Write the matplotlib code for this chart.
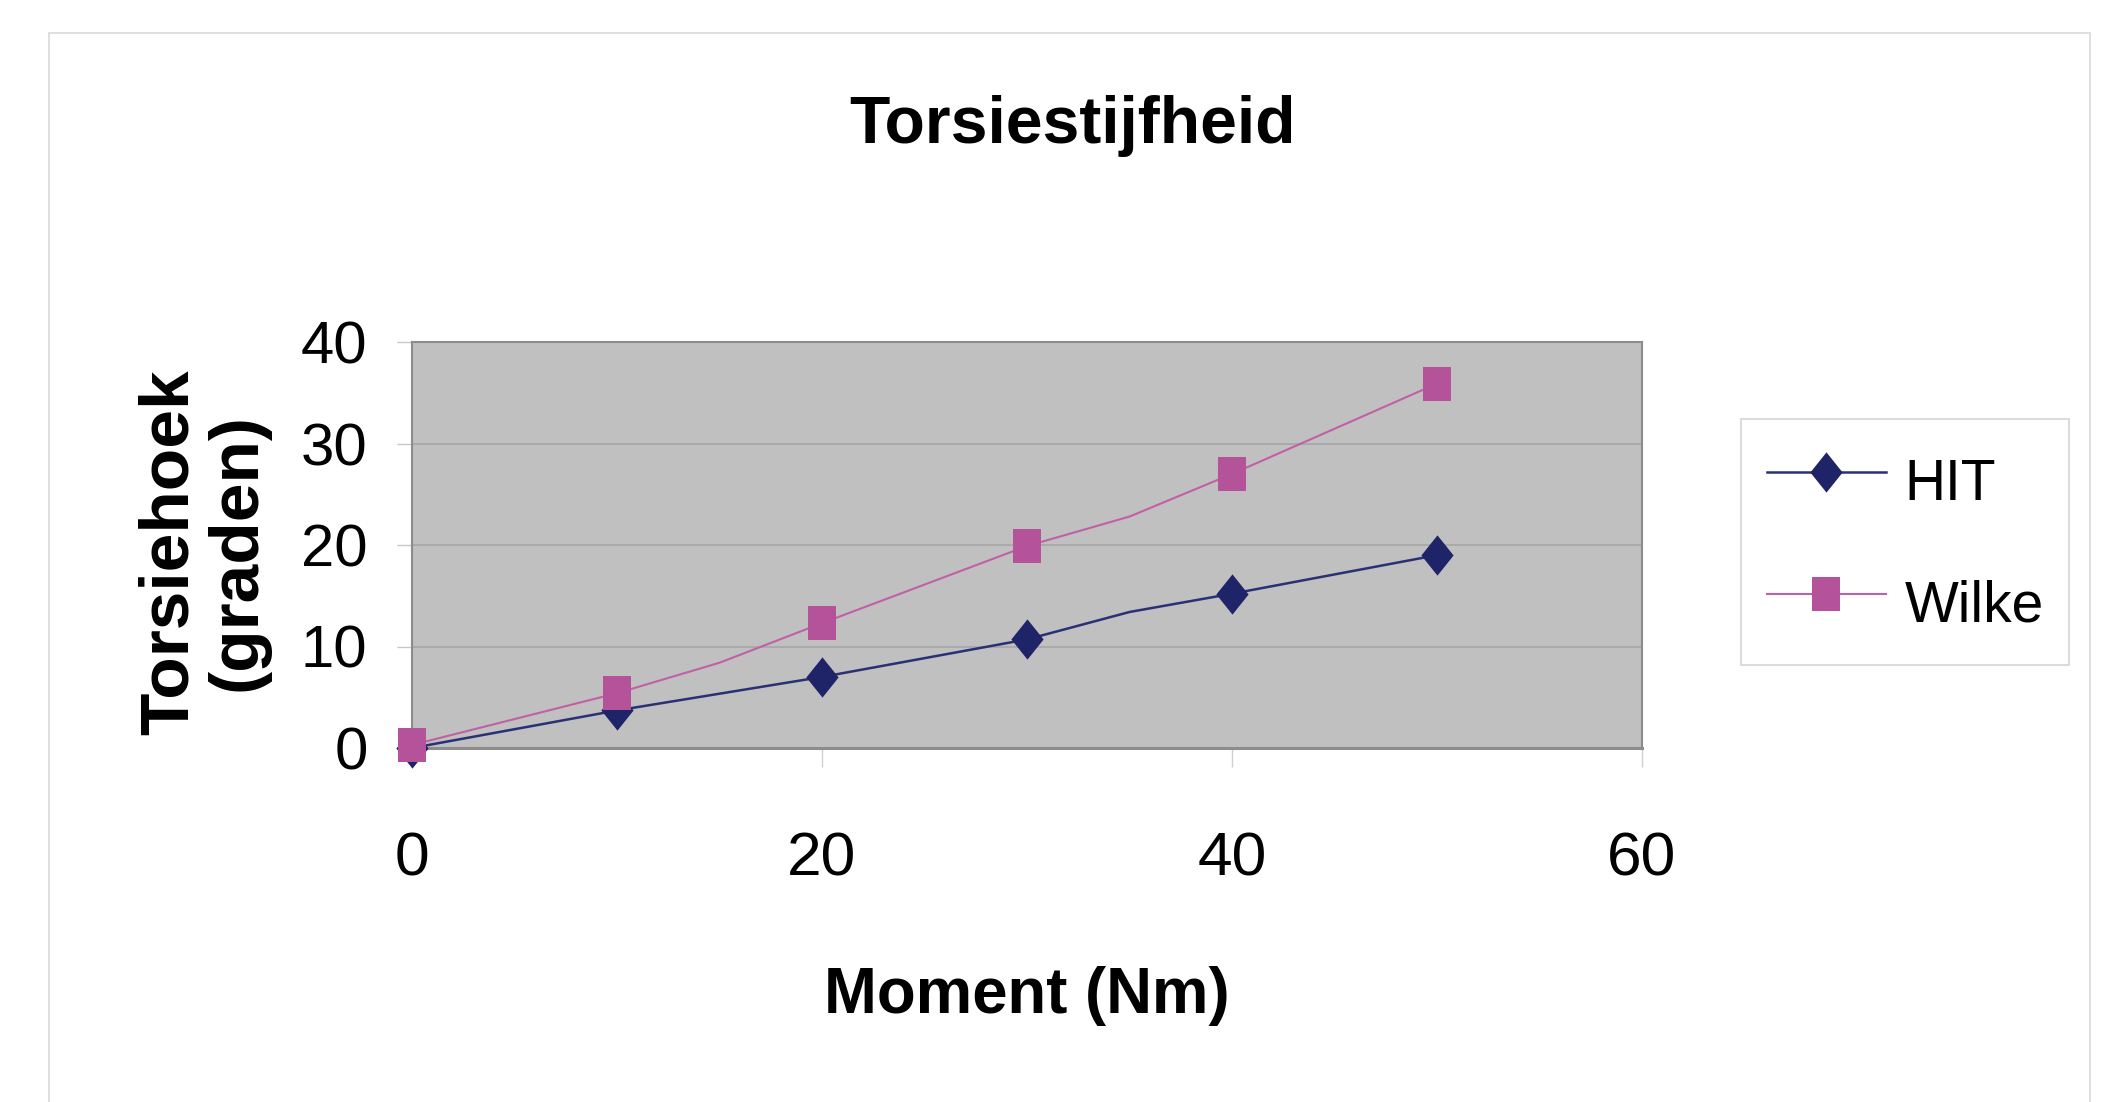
import matplotlib
matplotlib.use('Agg')
import matplotlib.pyplot as plt
from matplotlib.patches import Rectangle
from matplotlib import font_manager

# data (Moment in Nm, Torsiehoek in graden)
moment_hit = [0, 10, 20, 30, 35, 40, 50]
hoek_hit = [0.0, 3.7, 7.0, 10.7, 13.4, 15.2, 19.0]
moment_wilke = [0, 10, 15, 20, 30, 35, 40, 50]
hoek_wilke = [0.3, 5.4, 8.4, 12.3, 19.9, 22.8, 27.0, 35.9]
# points that carry a marker
marked_hit = [0, 1, 2, 3, 5, 6]
marked_wilke = [0, 1, 3, 4, 6, 7]
series_names = ['HIT', 'Wilke']
x_ticks = [0, 20, 40, 60]
y_ticks = [0, 10, 20, 30, 40]

names = {f.name for f in font_manager.fontManager.ttflist}
if 'Liberation Sans Narrow' in names:
    narrow, k = 'Liberation Sans Narrow', 1.0
else:
    # no narrow face installed: shrink a bit so widths stay close
    narrow, k = 'Liberation Sans', 0.88

W, H = 2123, 1102
fig = plt.figure(figsize=(W / 100, H / 100), dpi=100)

# light frame around the whole chart
fig.add_artist(Rectangle((49 / W, -0.2), (2090 - 49) / W, 1.2 - 33 / H,
                         transform=fig.transFigure, fill=False,
                         edgecolor='#d9d9d9', lw=1.2))

ax = fig.add_axes([412 / W, 1 - 748 / H, 1230 / W, 406 / H])
ax.set_facecolor('#c0c0c0')

navy = '#1f2468'
pink = '#b45399'
diamond = [(0, 1), (0.8, 0), (0, -1), (-0.8, 0), (0, 1)]
rect = [(-0.82, -1), (0.82, -1), (0.82, 1), (-0.82, 1), (-0.82, -1)]

l1, = ax.plot(moment_hit, hoek_hit, color='#2a3075', lw=1.8, clip_on=False, zorder=3)
m1, = ax.plot([moment_hit[i] for i in marked_hit], [hoek_hit[i] for i in marked_hit],
              ls='none', marker=diamond, ms=29, color=navy, mew=0, clip_on=False, zorder=4)
l2, = ax.plot(moment_wilke, hoek_wilke, color='#c060a5', lw=1.5, clip_on=False, zorder=5)
m2, = ax.plot([moment_wilke[i] for i in marked_wilke], [hoek_wilke[i] for i in marked_wilke],
              ls='none', marker=rect, ms=24.5, color=pink, mew=0, clip_on=False, zorder=6)

ax.set_xlim(0, 60)
ax.set_ylim(0, 40)
ax.set_xticks(x_ticks)
ax.set_yticks(y_ticks)
ax.yaxis.grid(True, color='#a6a6a6', lw=1.2)
ax.set_axisbelow(True)
for s in ax.spines.values():
    s.set_color('#8c8c8c')
    s.set_linewidth(1.5)
ax.spines['bottom'].set_linewidth(2.2)

ax.tick_params(axis='y', length=11, width=1, color='#c8c8c8', pad=21, labelsize=49 * k)
ax.tick_params(axis='x', length=14, width=1, color='#d0d0d0', pad=46, labelsize=51 * k)
for lab in ax.get_xticklabels() + ax.get_yticklabels():
    lab.set_family(narrow)

fig.text(1072 / W, 1 - 143 / H, 'Torsiestijfheid', ha='center', va='baseline',
         family=narrow, weight='bold', fontsize=54 * k)
fig.text(1027 / W, 1 - 1013 / H, 'Moment (Nm)', ha='center', va='baseline',
         family=narrow, weight='bold', fontsize=52 * k)
fig.text(204 / W, 1 - 552 / H, 'Torsiehoek\n(graden)', rotation=90, ha='center',
         va='center', multialignment='center', family='Liberation Sans',
         weight='bold', fontsize=50, linespacing=1.08)

fs = 50 * (1.0 if k == 1.0 else 0.82)
leg = fig.legend([(l1, m1), (l2, m2)], series_names, loc='upper left',
                 bbox_to_anchor=(1741 / W, 1 - 419 / H), borderaxespad=0,
                 prop={'family': narrow, 'size': fs}, handlelength=2.1,
                 handleheight=1.6, handletextpad=0.32, labelspacing=0.85,
                 borderpad=0.45, fancybox=False, framealpha=1, edgecolor='#d4d4d4')
leg.get_frame().set_linewidth(1.2)

fig.savefig('out.png', dpi=100)
